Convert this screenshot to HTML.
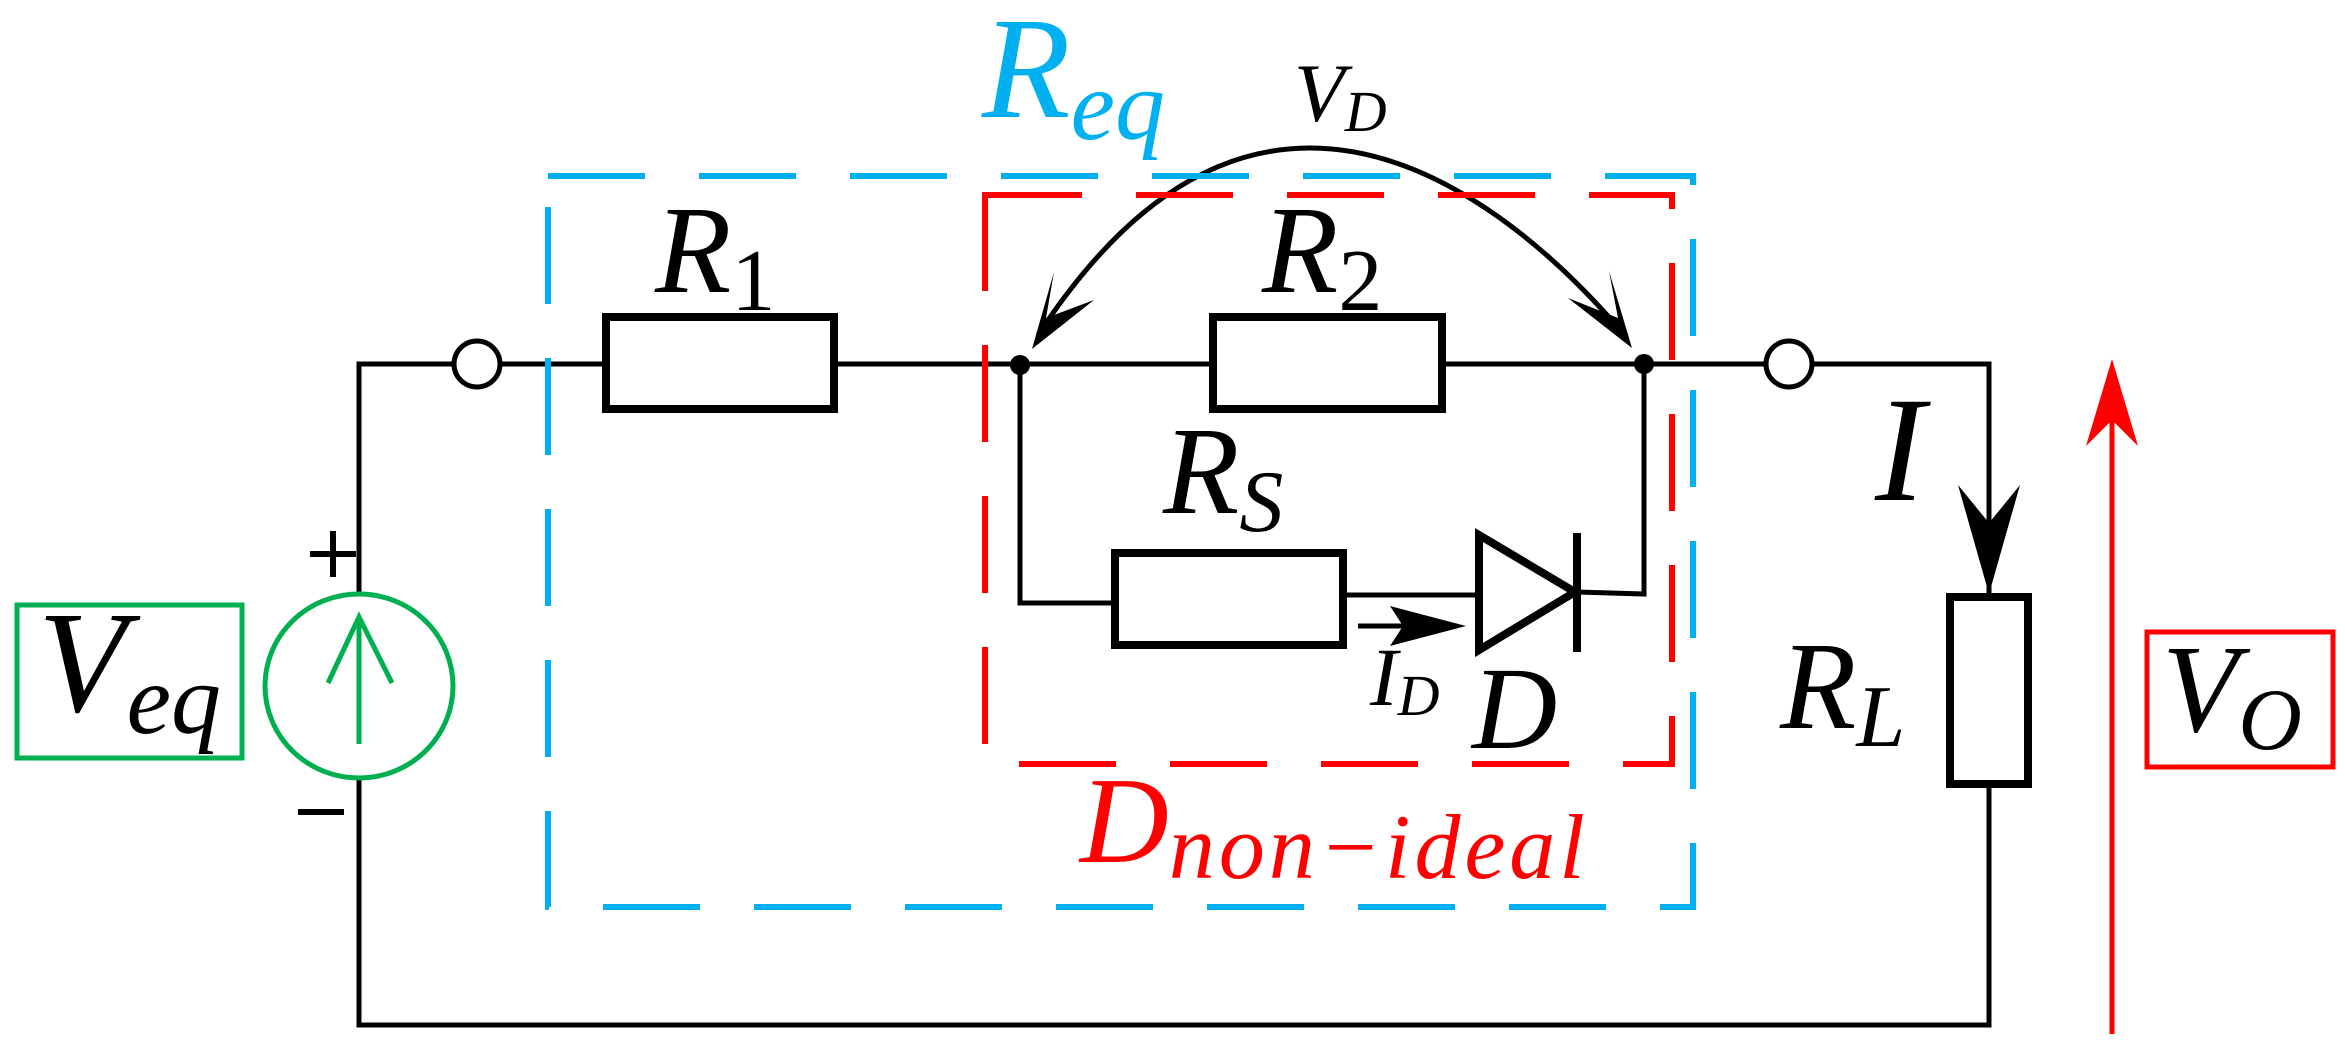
<!DOCTYPE html>
<html><head><meta charset="utf-8"><style>
html,body{margin:0;padding:0;background:#fff;}
svg{display:block;}
text{font-family:"Liberation Serif",serif;font-style:italic;}
</style></head><body>
<svg width="2345" height="1052" viewBox="0 0 2345 1052" xmlns="http://www.w3.org/2000/svg">
<!-- wires -->
<g fill="none" stroke="#000" stroke-width="5">
<polyline points="454,364 359,364 359,594"/>
<polyline points="359,777 359,1025 1989,1025 1989,784"/>
<line x1="500" y1="364" x2="606" y2="364"/>
<line x1="834" y1="364" x2="1213" y2="364"/>
<line x1="1442" y1="364" x2="1766" y2="364"/>
<polyline points="1812,364 1989,364 1989,597"/>
<polyline points="1020,364 1020,603 1115,603"/>
<line x1="1343" y1="595" x2="1478" y2="595"/>
<polyline points="1577,592 1644,594 1644,364"/>
<circle cx="477" cy="364" r="23" fill="#fff"/>
<circle cx="1789" cy="364" r="23" fill="#fff"/>
</g>
<circle cx="1020" cy="365" r="10"/>
<circle cx="1644" cy="364" r="10"/>
<!-- resistors -->
<g fill="#fff" stroke="#000" stroke-width="8">
<rect x="606" y="317" width="228" height="92"/>
<rect x="1213" y="317" width="229" height="92"/>
<rect x="1115" y="553" width="228" height="92"/>
<rect x="1950" y="597" width="78" height="187"/>
</g>
<!-- diode -->
<polygon points="1479,535 1479,650 1575,592" fill="#fff" stroke="#000" stroke-width="8"/>
<line x1="1577" y1="533" x2="1577" y2="652" stroke="#000" stroke-width="8"/>
<!-- ID arrow -->
<line x1="1358" y1="626" x2="1440" y2="626" stroke="#000" stroke-width="5"/>
<polygon points="1466,626 1390,606 1403,626 1390,646"/>
<!-- I arrow -->
<polygon points="1989,594 1958,485 1989,523 2020,485"/>
<!-- VD arc -->
<path d="M1038,335 C1120,210 1210,148 1310,148 C1420,148 1530,225 1622,332" fill="none" stroke="#000" stroke-width="5"/>
<polygon points="1032,349 1054,272 1046,318 1094,300"/>
<polygon points="1632,348 1609,271 1618,318 1568,298"/>
<!-- source -->
<ellipse cx="359" cy="686" rx="94" ry="92" fill="none" stroke="#00b050" stroke-width="5"/>
<polyline points="328,683 359,617 392,683" fill="none" stroke="#00b050" stroke-width="5"/>
<line x1="359" y1="617" x2="359" y2="744" stroke="#00b050" stroke-width="5"/>
<rect x="17" y="605" width="225" height="153" fill="none" stroke="#00b050" stroke-width="5"/>
<line x1="310" y1="554" x2="356" y2="554" stroke="#000" stroke-width="6"/>
<line x1="333" y1="531" x2="333" y2="577" stroke="#000" stroke-width="6"/>
<line x1="298" y1="812" x2="344" y2="812" stroke="#000" stroke-width="6"/>
<!-- dashed boxes -->
<rect x="548" y="176" width="1145" height="731" fill="none" stroke="#00b0f0" stroke-width="6" stroke-dasharray="97,54"/>
<rect x="985" y="195" width="687" height="569" fill="none" stroke="#ff0000" stroke-width="6" stroke-dasharray="97,54"/>
<!-- VO -->
<line x1="2112" y1="1034" x2="2112" y2="420" stroke="#ff0000" stroke-width="5"/>
<polygon points="2112,359 2086,446 2112,420 2138,446" fill="#ff0000"/>
<rect x="2147" y="632" width="186" height="135" fill="none" stroke="#ff0000" stroke-width="5"/>
<!-- labels -->
<text x="38" y="711" font-size="145">V<tspan font-size="100" dy="22">eq</tspan></text>
<text x="655" y="292" font-size="125">R<tspan font-size="88" font-style="normal" dy="18">1</tspan></text>
<text x="1262" y="292" font-size="125">R<tspan font-size="88" font-style="normal" dy="18">2</tspan></text>
<text x="1163" y="513" font-size="125">R<tspan font-size="88" dy="18">S</tspan></text>
<text x="982" y="117" font-size="145" fill="#00b0f0">R<tspan font-size="100" dy="22">eq</tspan></text>
<text x="1294" y="121" font-size="83">V<tspan font-size="58" dy="10">D</tspan></text>
<text x="1370" y="705" font-size="83">I<tspan font-size="58" dy="10">D</tspan></text>
<text x="1472" y="748" font-size="118">D</text>
<text x="1080" y="862" font-size="123" fill="#ff0000">D<tspan font-size="92" dy="16" letter-spacing="4">non−ideal</tspan></text>
<text x="1875" y="500" font-size="150">I</text>
<text x="1780" y="728" font-size="125">R<tspan font-size="88" dy="18">L</tspan></text>
<text x="2162" y="731" font-size="125">V<tspan font-size="88" dy="18">O</tspan></text>
</svg>
</body></html>
